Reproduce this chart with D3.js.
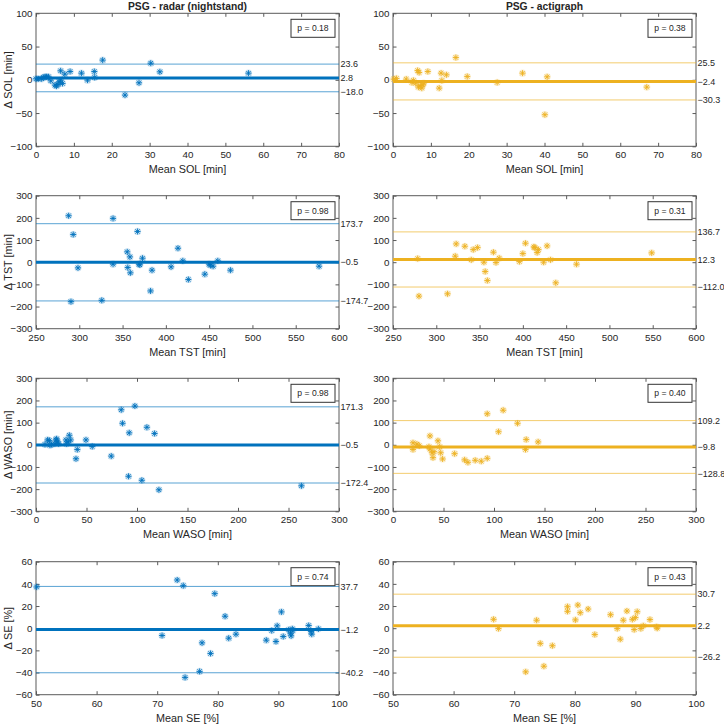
<!DOCTYPE html>
<html><head><meta charset="utf-8">
<script src="https://cdn.jsdelivr.net/npm/d3@7"></script>
<style>body{margin:0;background:#fff} text{font-family:"Liberation Sans",Arial,Helvetica,sans-serif;fill:#262626}</style>
</head><body><svg id="c" width="724" height="725"></svg>
<script>
// ---------- chart text / structure ----------
const columnTitles = ["PSG - radar (nightstand)", "PSG - actigraph"];
const columnColors = ["#0072BD", "#EDB120"];
const metrics = ["SOL", "TST", "WASO", "SE"];
const units = ["min", "min", "min", "%"];
const xDomains = [[0, 80], [250, 600], [0, 300], [50, 100]];
const yDomains = [[-100, 100], [-300, 300], [-300, 300], [-60, 60]];
const xTicks = [[0,10,20,30,40,50,60,70,80],[250,300,350,400,450,500,550,600],[0,50,100,150,200,250,300],[50,60,70,80,90,100]];
const yTicks = [[-100,-50,0,50,100],[-300,-200,-100,0,100,200,300],[-300,-200,-100,0,100,200,300],[-60,-40,-20,0,20,40,60]];

// ---------- data: PSG - radar ----------
const solRadarX = [0,0.6,1.5,1.9,2.4,2.8,3.3,3.9,5,5.4,5.8,6.1,6.5,6.5,7,7.6,9,12,13.6,15.4,15.5,17.6,23.5,27.2,30.3,32.7,56.1];
const solRadarY = [1.5,1.5,1.5,3.5,4.5,4.5,4.5,-1.5,-8,-9.5,-7,-3,13.5,-0.5,-5.5,8.5,12.5,10,-0.5,12.5,3.5,29.6,-23,-4.5,25,12,10];
const solRadarLines = [23.6, 2.8, -18.0];
const solRadarP = "p = 0.18";

const tstRadarX = [287.7,293,290.4,298.5,326,339,339,355.4,356,358.5,359,367.3,369,370,373,382.3,384,406,414,419.6,426,445,450,451.5,454.6,460,474.6,577];
const tstRadarY = [209.6,125,-178,-25.6,-172,197.5,-9,46.7,-24,24,-48,138.7,-9,-12,18,-129.7,-36,-21,63,6,-78,-54,-9,-13.5,-18,6,-36,-18];
const tstRadarLines = [173.7, -0.5, -174.7];
const tstRadarP = "p = 0.98";

const wasoRadarX = [8.9,11.5,13.2,13.8,15.5,18.8,19.8,20.4,21.4,22.4,29.7,30.3,32,33,34.3,40.9,39.6,49.5,55.7,74.5,84.4,85.7,92.3,91.6,97.9,104.8,109.8,117.4,121.7,262.8];
const wasoRadarY = [1.5,22,19,-1.5,1.5,4.5,22,27,13,4.5,22,4.5,13,43,22,-21,-63,22,-7.5,-51,158,97,54,-142,175,-160,79,51,-203,-185];
const wasoRadarLines = [171.3, -0.5, -172.4];
const wasoRadarP = "p = 0.98";

const seRadarX = [50.1,70.8,73.3,74.3,74.6,77,77.4,78.8,79.5,81.2,81.8,83,88,88.9,89.6,89.8,90.5,90.8,91.7,92,92.1,92.3,92.4,95,95.4,95.5,96.6];
const seRadarY = [37.2,-6.6,43.5,38.4,-44.4,-39,-13.2,-22.8,31.2,10.8,-9,-5.4,-10.8,-2.1,-12,2.1,14.7,-7.5,-1.5,-4.5,-6.9,-0.6,-2.1,2.4,-3,-5.4,-0.6];
const seRadarLines = [37.7, -1.2, -40.2];
const seRadarP = "p = 0.74";

// ---------- data: PSG - actigraph ----------
const solActiX = [0.2,0.9,3.5,5,5.4,6,6.5,6.9,6.7,7.2,7.6,7.9,8.1,9.2,12.2,12.7,12.9,14.1,16.6,19.6,27.5,34.2,40.1,40.7,67];
const solActiY = [1,2,1,-4,-1,-5,14,11,-11,-9,-12.5,-7.5,-5,12.5,-12.5,10,-1,7.5,33.5,5,-4,10,-52.5,4.5,-11];
const solActiLines = [25.5, -2.4, -30.3];
const solActiP = "p = 0.38";

const tstActiX = [278.5,280,313,321.9,323,333,340.4,342.7,347.7,355,356.5,359,366,369,372.7,396,400,403,412.7,413.8,418,416.5,424,428,432,438,462,548.8];
const tstActiY = [16.5,-153,-142.5,27,82.5,72,10.5,57,66,0,-42,-82.5,45,-1.5,18,3,39,85.5,69,66,57,43.5,0,73.5,10.5,-93,-9,42];
const tstActiLines = [136.7, 12.3, -112.0];
const tstActiP = "p = 0.31";

const wasoActiX = [19.8,19.8,23.7,26,36.6,35.6,36.6,38.6,39.6,40.6,44.5,46.2,47.2,49.1,61,70.9,74.2,81.4,87.4,93.3,93.3,104.5,109.1,123.3,131.9,131.2,143.7];
const wasoActiY = [9,-21,3,-4.5,40,-9,-19,-36,-58,-31,18,-9,-36,-64,-40,-68,-79,-70,-74,-61,140,59,156,97,24,-21,13];
const wasoActiLines = [109.2, -9.8, -128.8];
const wasoActiP = "p = 0.40";

const seActiX = [66.6,67.4,71.9,73.7,74.3,74.9,76.3,78.8,78.8,80.1,80.5,80.9,82.2,83.3,85.9,87,87.5,88,88.6,89.5,89.8,90,90.3,90.9,91.3,92.4,93.5,93.6];
const seActiY = [8,-0.3,-39.4,7.2,-13.7,-34.3,-15.8,19.4,15.2,7.5,20.9,14,17.3,-5.7,12.2,-0.3,-9.9,7.2,15.5,8,-1.2,9.6,14.9,-0.3,2.1,7.8,1.2,0];
const seActiLines = [30.7, 2.2, -26.2];
const seActiP = "p = 0.43";

const panels = [
  [[solRadarX, solRadarY, solRadarLines, solRadarP], [solActiX, solActiY, solActiLines, solActiP]],
  [[tstRadarX, tstRadarY, tstRadarLines, tstRadarP], [tstActiX, tstActiY, tstActiLines, tstActiP]],
  [[wasoRadarX, wasoRadarY, wasoRadarLines, wasoRadarP], [wasoActiX, wasoActiY, wasoActiLines, wasoActiP]],
  [[seRadarX, seRadarY, seRadarLines, seRadarP], [seActiX, seActiY, seActiLines, seActiP]]
];

// ---------- layout ----------
const lefts = [36, 393];
const tops = [13.3, 195.7, 378.3, 561.7];
const W = 303, H = 133;
const tickLen = 3.5;
const axisColor = "#5a5a5a";

const svg = d3.select("#c");
const star = "M0,-3V3M-3,0H3M-2.15,-2.15L2.15,2.15M-2.15,2.15L2.15,-2.15";

metrics.forEach((m, r) => {
  [0, 1].forEach(c => {
    const [xs, ys, lines, ptxt] = panels[r][c];
    const color = columnColors[c];
    const L = lefts[c], T = tops[r];
    const x = d3.scaleLinear().domain(xDomains[r]).range([L, L + W]);
    const y = d3.scaleLinear().domain(yDomains[r]).range([T + H, T]);
    const g = svg.append("g");

    g.append("rect").attr("x", L).attr("y", T).attr("width", W).attr("height", H)
      .attr("fill", "none").attr("stroke", axisColor).attr("stroke-width", 1);

    const ax = g.append("g").attr("transform", `translate(0,${T + H})`)
      .call(d3.axisBottom(x).tickValues(xTicks[r]).tickSize(-tickLen).tickPadding(5).tickFormat(d3.format("d")));
    const axTop = g.append("g").attr("transform", `translate(0,${T})`)
      .call(d3.axisTop(x).tickValues(xTicks[r]).tickSize(-tickLen).tickFormat(""));
    const ay = g.append("g").attr("transform", `translate(${L},0)`)
      .call(d3.axisLeft(y).tickValues(yTicks[r]).tickSize(-tickLen).tickPadding(3.5).tickFormat(d3.format("d")));
    const ayR = g.append("g").attr("transform", `translate(${L + W},0)`)
      .call(d3.axisRight(y).tickValues(yTicks[r]).tickSize(-tickLen).tickFormat(""));
    [ax, axTop, ay, ayR].forEach(a => {
      a.select(".domain").remove();
      a.selectAll(".tick line").attr("stroke", axisColor);
      a.selectAll("text").style("font-size", "9.8px").style("font-family", '"Liberation Sans",Arial,sans-serif').attr("fill", "#262626");
    });

    lines.forEach((v, i) => {
      g.append("line").attr("x1", L).attr("x2", L + W).attr("y1", y(v)).attr("y2", y(v))
        .attr("stroke", color).attr("stroke-width", i === 1 ? 3 : 1)
        .attr("stroke-opacity", i === 1 ? 1 : 0.65);
      g.append("text").attr("x", L + W + 1.5).attr("y", y(v)).attr("dy", "0.35em")
        .style("font-size", "9px").text(d3.format(".1f")(v));
    });

    const pts = g.append("g");
    xs.forEach((xv, i) => {
      const pg = pts.append("g").attr("transform", `translate(${x(xv)},${y(ys[i])})`);
      pg.append("circle").attr("r", 3.6).attr("fill", color).attr("fill-opacity", 0.2);
      pg.append("path").attr("d", star).attr("stroke", color).attr("stroke-width", 0.9).attr("fill", "none");
    });

    g.append("rect").attr("x", L + W - 48).attr("y", T + 6).attr("width", 44).attr("height", 18)
      .attr("fill", "#fff").attr("stroke", "#333").attr("stroke-width", 1);
    g.append("text").attr("x", L + W - 26).attr("y", T + 15).attr("dy", "0.35em").attr("text-anchor", "middle")
      .style("font-size", "8.6px").text(ptxt);

    g.append("text").attr("x", L + W / 2).attr("y", T + H + 27).attr("text-anchor", "middle")
      .style("font-size", "10.8px").text(`Mean ${m} [${units[r]}]`);

    if (c === 0) {
      g.append("text").attr("transform", `translate(12,${T + H / 2}) rotate(-90)`)
        .attr("text-anchor", "middle").style("font-size", "10.8px")
        .text(`\u0394 ${m} [${units[r]}]`);
    }
    if (r === 0) {
      g.append("text").attr("x", L + W / 2).attr("y", T - 3.5).attr("text-anchor", "middle")
        .style("font-size", "10.3px").style("font-weight", "bold").attr("fill", "#000")
        .text(columnTitles[c]);
    }
  });
});
</script></body></html>
